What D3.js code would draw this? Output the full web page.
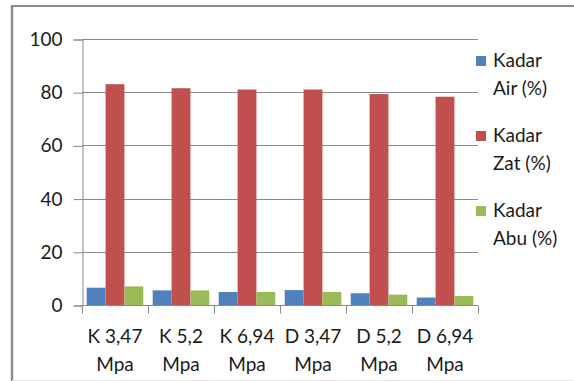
<!DOCTYPE html>
<html>
<head>
<meta charset="utf-8">
<script src="https://cdn.jsdelivr.net/npm/d3@7"></script>
<style>
  html, body { margin: 0; padding: 0; background: #fff; }
  svg text { font-family: Lato, "Open Sans", sans-serif; fill: #1a1a1a; }
</style>
</head>
<body>
<svg id="chart" width="574" height="381"></svg>
<script>
// Categories (two-line labels) and series values
const categories = ["K 3,47 Mpa", "K 5,2 Mpa", "K 6,94 Mpa", "D 3,47 Mpa", "D 5,2 Mpa", "D 6,94 Mpa"];
const categoryLines = [["K 3,47", "Mpa"], ["K 5,2", "Mpa"], ["K 6,94", "Mpa"], ["D 3,47", "Mpa"], ["D 5,2", "Mpa"], ["D 6,94", "Mpa"]];
const seriesNames = ["Kadar Air (%)", "Kadar Zat (%)", "Kadar Abu (%)"];
const legendLines = [["Kadar", "Air (%)"], ["Kadar", "Zat (%)"], ["Kadar", "Abu (%)"]];
const kadarAir = [6.5, 5.5, 4.9, 5.6, 4.4, 2.8];
const kadarZat = [83.0, 81.5, 81.0, 81.0, 79.3, 78.3];
const kadarAbu = [7.0, 5.5, 4.9, 4.9, 3.9, 3.4];
const yTicks = [0, 20, 40, 60, 80, 100];
const colors = ["#4F81BD", "#C0504D", "#9BBB59"];

const seriesValues = [kadarAir, kadarZat, kadarAbu];
const svg = d3.select("#chart");

// Outer frame
svg.append("line").attr("x1", 12).attr("x2", 574).attr("y1", 6).attr("y2", 6)
  .attr("stroke", "#8c8c8c").attr("stroke-width", 2);
svg.append("line").attr("x1", 12).attr("x2", 12).attr("y1", 5).attr("y2", 381)
  .attr("stroke", "#8c8c8c").attr("stroke-width", 2.5);
svg.append("line").attr("x1", 12).attr("x2", 574).attr("y1", 380.5).attr("y2", 380.5)
  .attr("stroke", "#e4e4e4").attr("stroke-width", 1);

const plot = { left: 82, right: 478, top: 39, bottom: 305 };

const x = d3.scaleBand().domain(categories).range([plot.left, plot.right]).paddingInner(0).paddingOuter(0);
// 150% gap width: group occupies 3 of 4.5 bar widths
const x1 = d3.scaleBand().domain(seriesNames).range([0, x.bandwidth()]).paddingInner(0).paddingOuter(0.25);
const y = d3.scaleLinear().domain([0, 100]).range([plot.bottom, plot.top]);

// Horizontal gridlines
svg.append("g").selectAll("line").data(yTicks.filter(d => d > 0)).join("line")
  .attr("x1", plot.left).attr("x2", plot.right)
  .attr("y1", d => Math.round(y(d)) + 0.5).attr("y2", d => Math.round(y(d)) + 0.5)
  .attr("stroke", "#8a8a8a").attr("stroke-width", 1);

// Y axis
const yAxis = svg.append("g").attr("transform", `translate(${plot.left + 0.5},0.5)`)
  .call(d3.axisLeft(y).tickValues(yTicks).tickSize(9).tickPadding(11).tickFormat(d3.format("d")));
yAxis.select(".domain").attr("stroke", "#8a8a8a");
yAxis.selectAll(".tick line").attr("stroke", "#8a8a8a");
yAxis.selectAll(".tick text").attr("font-size", 19).attr("fill", "#1a1a1a")
  .attr("font-family", "Lato, 'Open Sans', sans-serif");

// Bars
const groups = svg.append("g").selectAll("g").data(categories).join("g")
  .attr("transform", d => `translate(${x(d)},0)`);
groups.selectAll("rect")
  .data((d, i) => seriesNames.map((s, j) => ({ s, v: seriesValues[j][i], j })))
  .join("rect")
  .attr("x", d => x1(d.s))
  .attr("width", x1.bandwidth())
  .attr("y", d => y(d.v))
  .attr("height", d => y(0) - y(d.v))
  .attr("fill", d => colors[d.j]);

// X axis with ticks at category boundaries
const xAxisG = svg.append("g").attr("transform", `translate(0,${plot.bottom + 0.5})`);
xAxisG.append("line").attr("x1", plot.left).attr("x2", plot.right)
  .attr("stroke", "#8a8a8a");
const boundaries = categories.map(c => x(c)).concat([plot.right]);
xAxisG.selectAll("line.tk").data(boundaries).join("line").attr("class", "tk")
  .attr("x1", d => Math.round(d) + 0.5).attr("x2", d => Math.round(d) + 0.5)
  .attr("y1", 0).attr("y2", 8).attr("stroke", "#8a8a8a");
const catLabels = svg.append("g").selectAll("text").data(categories).join("text")
  .attr("text-anchor", "middle")
  .attr("font-size", 19)
  .attr("x", d => x(d) + x.bandwidth() / 2);
catLabels.each(function(d, i) {
  const t = d3.select(this);
  categoryLines[i].forEach((line, k) => {
    t.append("tspan").attr("x", x(d) + x.bandwidth() / 2).attr("y", 343 + k * 28).text(line);
  });
});

// Legend
const legend = svg.append("g").selectAll("g").data(seriesNames).join("g")
  .attr("transform", (d, i) => `translate(476,${56 + i * 75})`);
legend.append("rect").attr("width", 10).attr("height", 10).attr("fill", (d, i) => colors[i]);
legend.append("text").attr("font-size", 19).each(function(d, i) {
  const t = d3.select(this);
  legendLines[i].forEach((line, k) => {
    t.append("tspan").attr("x", 17).attr("y", 11 + k * 28).text(line);
  });
});
</script>
</body>
</html>
